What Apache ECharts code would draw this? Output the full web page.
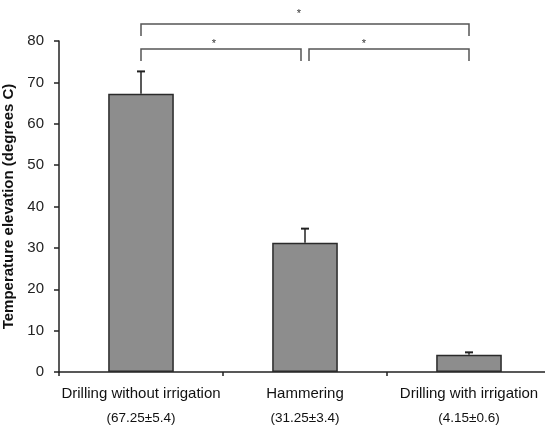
<!DOCTYPE html>
<html>
<head>
<meta charset="utf-8">
<script src="https://cdn.jsdelivr.net/npm/echarts@6/dist/echarts.min.js"></script>
<style>html,body{margin:0;padding:0;background:#fff}#c{width:545px;height:428px}</style>
</head>
<body>
<div id="c"></div>
<script>
const categories = ['Drilling without irrigation', 'Hammering', 'Drilling with irrigation'];
const subLabels = ['(67.25±5.4)', '(31.25±3.4)', '(4.15±0.6)'];
const means = [67.25, 31.25, 4.15];
const errors = [5.4, 3.4, 0.6];
const yTicks = [0, 10, 20, 30, 40, 50, 60, 70, 80];

const chart = echarts.init(document.getElementById('c'), null, {renderer: 'canvas'});
const FONT = 'Liberation Sans, Arial, sans-serif';

chart.setOption({
  animation: false,
  grid: {left: 59, top: 41, bottom: 56, width: 492, containLabel: false, outerBoundsMode: 'none'},
  xAxis: {
    type: 'category',
    data: categories,
    axisLine: {lineStyle: {color: '#222', width: 1.5}},
    axisTick: {show: true, length: 4, lineStyle: {color: '#222', width: 1.5}},
    axisLabel: {
      margin: 11,
      interval: 0,
      formatter: function (v, i) { return '{a|' + v + '}\n{b|' + subLabels[i] + '}'; },
      rich: {
        a: {fontSize: 15, lineHeight: 22, color: '#111', fontFamily: FONT},
        b: {fontSize: 13.5, lineHeight: 26, color: '#111', fontFamily: FONT}
      }
    }
  },
  yAxis: {
    type: 'value',
    min: yTicks[0],
    max: yTicks[yTicks.length - 1],
    interval: 10,
    name: 'Temperature elevation (degrees C)',
    nameLocation: 'middle',
    nameGap: 37,
    nameTextStyle: {fontSize: 15, fontWeight: 'bold', color: '#111', fontFamily: FONT},
    axisLine: {show: true, lineStyle: {color: '#222', width: 1.5}},
    axisTick: {show: true, length: 5, lineStyle: {color: '#222', width: 1.5}},
    axisLabel: {margin: 15, fontSize: 15, color: '#222', fontFamily: FONT},
    splitLine: {show: false}
  },
  series: [
    {
      type: 'bar',
      data: means,
      barWidth: '40%',
      itemStyle: {color: '#8d8d8d', borderColor: '#2a2a2a', borderWidth: 1.5}
    },
    {
      type: 'custom',
      data: means.map((m, i) => [i, m, m + errors[i]]),
      z: 10,
      renderItem: function (params, api) {
        const base = api.coord([api.value(0), api.value(1)]);
        const top = api.coord([api.value(0), api.value(2)]);
        const hw = 4;
        return {
          type: 'group',
          children: [
            {type: 'line', shape: {x1: base[0], y1: base[1], x2: top[0], y2: top[1]}, style: {stroke: '#222', lineWidth: 1.5}},
            {type: 'line', shape: {x1: top[0] - hw, y1: top[1], x2: top[0] + hw, y2: top[1]}, style: {stroke: '#222', lineWidth: 2}}
          ]
        };
      }
    }
  ]
});

function drawBrackets() {
  const c0 = chart.convertToPixel({xAxisIndex: 0}, 0);
  const c1 = chart.convertToPixel({xAxisIndex: 0}, 1);
  const c2 = chart.convertToPixel({xAxisIndex: 0}, 2);
  const yTop = chart.convertToPixel({yAxisIndex: 0}, yTicks[yTicks.length - 1]);
  const stroke = {stroke: '#555', lineWidth: 1.5, fill: null};
  const outer = [yTop - 5, yTop - 17];
  const inner = [yTop + 20, yTop + 8];
  chart.setOption({
    graphic: [
      {type: 'polyline', shape: {points: [[c0, outer[0]], [c0, outer[1]], [c2, outer[1]], [c2, outer[0]]]}, style: stroke},
      {type: 'polyline', shape: {points: [[c0, inner[0]], [c0, inner[1]], [c1 - 4, inner[1]], [c1 - 4, inner[0]]]}, style: stroke},
      {type: 'polyline', shape: {points: [[c1 + 4, inner[0]], [c1 + 4, inner[1]], [c2, inner[1]], [c2, inner[0]]]}, style: stroke},
      {type: 'text', x: c1 - 6, y: outer[1] - 10, style: {text: '*', fontSize: 11, fill: '#333', align: 'center', verticalAlign: 'middle', fontFamily: FONT}},
      {type: 'text', x: c0 + 73, y: inner[1] - 5, style: {text: '*', fontSize: 11, fill: '#333', align: 'center', verticalAlign: 'middle', fontFamily: FONT}},
      {type: 'text', x: c1 + 59, y: inner[1] - 5, style: {text: '*', fontSize: 11, fill: '#333', align: 'center', verticalAlign: 'middle', fontFamily: FONT}}
    ]
  });
}
drawBrackets();
</script>
</body>
</html>
